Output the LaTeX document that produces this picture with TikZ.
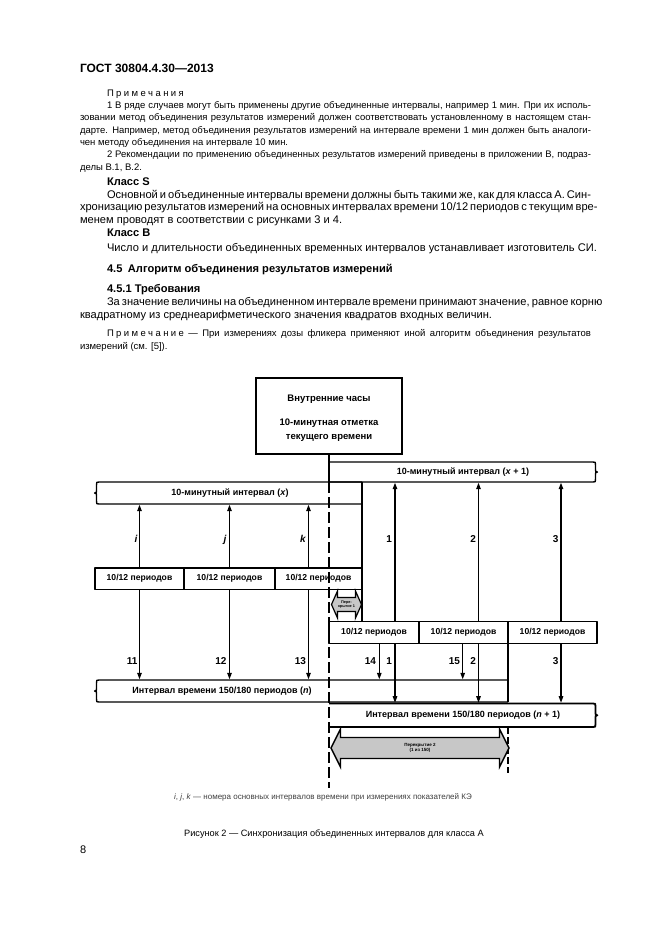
\documentclass[tikz,border=0pt]{standalone}
\usepackage{fontspec}
\setmainfont{Liberation Sans}
\usetikzlibrary{arrows.meta,calc}
\newcommand\lsp{\kern2.4pt}
\newcommand\jw[1]{\makebox[511pt][s]{#1}}
\newcommand\ji[1]{\makebox[484pt][s]{#1}}
\begin{document}
\begin{tikzpicture}[x=1pt,y=-1pt,
  every node/.style={inner sep=0pt, outer sep=0pt},
  txt/.style={anchor=base west, font=\fontsize{11.1}{13}\selectfont},
  ntxt/.style={anchor=base west, font=\fontsize{9.5}{12}\selectfont},
  htxt/.style={anchor=base west, font=\fontsize{11.1}{13}\selectfont\bfseries},
  dlab/.style={font=\fontsize{9}{11}\selectfont\bfseries},
  plab/.style={font=\fontsize{8.6}{10}\selectfont\bfseries},
  num/.style={font=\fontsize{10}{12}\selectfont\bfseries, anchor=base east},
  box/.style={draw, line width=1.4pt, line join=round},
  arr/.style={line width=1.2pt, -{Triangle[width=4.5pt,length=6.5pt]}},
  ovl/.style={draw, line width=1.2pt, fill=black!22},
  lbr/.style n args={3}{insert path={.. controls (#1+1.5,#2) .. (#1+1.5,#2+3) -- (#1+1.5,{(#2+#3)/2-2.5}) .. controls (#1+1.5,{(#2+#3)/2}) .. (#1-0.5,{(#2+#3)/2}) .. controls (#1+1.5,{(#2+#3)/2}) .. (#1+1.5,{(#2+#3)/2+2.5}) -- (#1+1.5,#3-3) .. controls (#1+1.5,#3) .. (#1+4,#3)}},
  rbr/.style n args={3}{insert path={.. controls (#1-1.5,#2) .. (#1-1.5,#2+3) -- (#1-1.5,{(#2+#3)/2-2.5}) .. controls (#1-1.5,{(#2+#3)/2}) .. (#1+0.5,{(#2+#3)/2}) .. controls (#1-1.5,{(#2+#3)/2}) .. (#1-1.5,{(#2+#3)/2+2.5}) -- (#1-1.5,#3-3) .. controls (#1-1.5,#3) .. (#1-4,#3)}}
]
\useasboundingbox (0,0) rectangle (661,935);
\fill[white] (0,0) rectangle (661,935);

% ---------- page text ----------
\node[anchor=base west, font=\fontsize{12}{14}\selectfont\bfseries] (hdr) at (80,72.5) {ГОСТ 30804.4.30—2013};

\node[ntxt] (n0) at (107,96) {П\lsp р\lsp и\lsp м\lsp е\lsp ч\lsp а\lsp н\lsp и\lsp я};
\node[ntxt] (n1) at (107,108.3) {\ji{1 В ряде случаев могут быть применены другие объединенные интервалы, например 1 мин. При их исполь-}};
\node[ntxt] (n2) at (80,120.6) {\jw{зовании метод объединения результатов измерений должен соответствовать установленному в настоящем стан-}};
\node[ntxt] (n3) at (80,133) {\jw{дарте. Например, метод объединения результатов измерений на интервале времени 1 мин должен быть аналоги-}};
\node[ntxt] (n4) at (80,145.3) {чен методу объединения на интервале 10 мин.};
\node[ntxt] (n5) at (107,157.6) {\ji{2 Рекомендации по применению объединенных результатов измерений приведены в приложении В, подраз-}};
\node[ntxt] (n6) at (80,170) {делы В.1, В.2.};

\node[htxt] (cs) at (107,185) {Класс S};
\node[txt] (b1) at (107,198) {\ji{Основной и объединенные интервалы времени должны быть такими же, как для класса А. Син-}};
\node[txt] (b2) at (80,210.5) {\jw{хронизацию результатов измерений на основных интервалах времени 10/12 периодов с текущим вре-}};
\node[txt] (b3) at (80,223) {менем проводят в соответствии с рисунками 3 и 4.};
\node[htxt] (cb) at (107,236) {Класс В};
\node[txt] (b4) at (107,251) {Число и длительности объединенных временных интервалов устанавливает изготовитель СИ.};
\node[htxt] (h45) at (107,272) {4.5\hspace{0.5em}Алгоритм объединения результатов измерений};
\node[htxt] (h451) at (107,292) {4.5.1 Требования};
\node[txt] (b5) at (107,305) {\ji{За значение величины на объединенном интервале времени принимают значение, равное корню}};
\node[txt] (b6) at (80,318) {квадратному из среднеарифметического значения квадратов входных величин.};
\node[ntxt] (n7) at (107,336) {\ji{П\lsp р\lsp и\lsp м\lsp е\lsp ч\lsp а\lsp н\lsp и\lsp е — При измерениях дозы фликера применяют иной алгоритм объединения результатов}};
\node[ntxt] (n8) at (80,349) {измерений (см. [5]).};

% ---------- diagram ----------
\node[draw, line width=2.6pt, minimum width=146, minimum height=76] (clock) at (329,416) {};
\node[align=center, font=\fontsize{9.5}{14}\selectfont\bfseries] (clockt) at (329,418) {Внутренние часы\\[10pt]10-минутная отметка\\текущего времени};

% 10-minute interval (x+1)
\draw[box] (329,462) -- (593,462) [rbr={597}{462}{482}] -- (329,482);
\node[dlab] (xp1) at (463,472) {10-минутный интервал (\textit{x} + 1)};
% 10-minute interval (x)
\draw[box] (362,482) -- (99,482) [lbr={95}{482}{504}] -- (362,504);
\node[dlab] (xb) at (230,493.5) {10-минутный интервал (\textit{x})};
\draw[box] (362,482) -- (362,622);

% 10/12 period boxes
\node[box, plab, minimum width=89, minimum height=21.5] (p1) at (139.5,578.75) {10/12 периодов};
\node[box, plab, minimum width=91, minimum height=21.5] (p2) at (229.5,578.75) {10/12 периодов};
\node[box, plab, minimum width=87, minimum height=21.5] (p3) at (318.5,578.75) {10/12 периодов};
\node[box, plab, minimum width=90, minimum height=21.5] (q1) at (374,632.5) {10/12 периодов};
\node[box, plab, minimum width=89, minimum height=21.5] (q2) at (463.5,632.5) {10/12 периодов};
\node[box, plab, minimum width=89, minimum height=21.5] (q3) at (552.5,632.5) {10/12 периодов};

\coordinate (xbot) at (0,504.7);
\coordinate (xtop) at (0,482.7);
\coordinate (ntop) at (0,679.3);
\coordinate (n1top) at (0,702.7);

% up arrows to interval (x)
\draw[arr] (p1.north) -- (p1.north |- xbot);
\draw[arr] (p2.north) -- (p2.north |- xbot);
\draw[arr] ([xshift=-10]p3.north) -- ([xshift=-10]p3.north |- xbot);
\node[num] (li) at (137.5,542) {\textit{i}};
\node[num] (lj) at (226.5,542) {\textit{j}};
\node[num] (lk) at (306,542) {\textit{k}};
% up arrows to interval (x+1)
\draw[arr] ([xshift=21]q1.north) -- ([xshift=21]q1.north |- xtop);
\draw[arr] ([xshift=15]q2.north) -- ([xshift=15]q2.north |- xtop);
\draw[arr] ([xshift=8.5]q3.north) -- ([xshift=8.5]q3.north |- xtop);
\node[num] (lu1) at (392,542) {1};
\node[num] (lu2) at (476,542) {2};
\node[num] (lu3) at (558.5,542) {3};

% down arrows to interval (n)
\draw[arr] (p1.south) -- (p1.south |- ntop);
\draw[arr] (p2.south) -- (p2.south |- ntop);
\draw[arr] ([xshift=-10]p3.south) -- ([xshift=-10]p3.south |- ntop);
\node[num] (l11) at (137.5,664) {11};
\node[num] (l12) at (226.5,664) {12};
\node[num] (l13) at (306,664) {13};
\draw[arr] ([xshift=5.3]q1.south) -- ([xshift=5.3]q1.south |- ntop);
\draw[arr] ([xshift=21]q1.south) -- ([xshift=21]q1.south |- n1top);
\draw[arr] ([xshift=-0.8]q2.south) -- ([xshift=-0.8]q2.south |- ntop);
\draw[arr] ([xshift=15]q2.south) -- ([xshift=15]q2.south |- n1top);
\draw[arr] ([xshift=8.5]q3.south) -- ([xshift=8.5]q3.south |- n1top);
\node[num] (l14) at (376,664) {14};
\node[num] (ld1) at (392,664) {1};
\node[num] (l15) at (460,664) {15};
\node[num] (ld2) at (476,664) {2};
\node[num] (ld3) at (558.5,664) {3};

% interval 150/180 (n)
\draw[box] (508,680) -- (99,680) [lbr={95}{680}{702}] -- (508,702);
\draw[box] (q3.south west) -- (508,702);
\node[dlab] (nb) at (222,691.5) {Интервал времени 150/180 периодов (\textit{n})};
% interval 150/180 (n+1)
\draw[box, line width=1.8pt] (329,703.5) -- (593,703.5) [rbr={597}{703.5}{727}] -- (329,727);
\node[dlab] (np1) at (463,715.5) {Интервал времени 150/180 периодов (\textit{n} + 1)};
\draw[line width=1.3pt, dash pattern=on 7pt off 3pt] (508,727) -- (508,773);

% overlaps
\draw[ovl] (331.5,604.5) -- (337.5,591) -- (337.5,597.5) -- (355.5,597.5) -- (355.5,591) -- (361.5,604.5) -- (355.5,618) -- (355.5,611.5) -- (337.5,611.5) -- (337.5,618) -- cycle;
\node[font=\fontsize{3.8}{4.3}\selectfont\bfseries, align=center] (ov1) at (346.5,604.5) {Пере-\\крытие 1};
\draw[ovl, line width=1.4pt] (331,748) -- (340.5,729) -- (340.5,737.5) -- (499.5,737.5) -- (499.5,729) -- (509,748) -- (499.5,767) -- (499.5,758.5) -- (340.5,758.5) -- (340.5,767) -- cycle;
\node[font=\fontsize{4.5}{5.3}\selectfont\bfseries, align=center] (ov2) at (420,748) {Перекрытие 2\\(1 из 150)};

% clock line
\coordinate (clk1) at (329,482);
\coordinate (clend) at (329,788);
\draw[line width=2.8pt] (clock.south) -- (clk1);
\draw[line width=2.8pt, dash pattern=on 11pt off 4pt] (clk1) -- (clend);

% captions
\node[font=\fontsize{8}{10}\selectfont, text=black!75, anchor=base] (leg) at (323,799) {\textit{i}, \textit{j}, \textit{k} — номера основных интервалов времени при измерениях показателей КЭ};
\node[font=\fontsize{9.2}{11}\selectfont, anchor=base] (cap) at (334,836) {Рисунок 2 — Синхронизация объединенных интервалов для класса А};
\node[font=\fontsize{11}{13}\selectfont, anchor=base west] (pg) at (80,853) {8};
\end{tikzpicture}
\end{document}
